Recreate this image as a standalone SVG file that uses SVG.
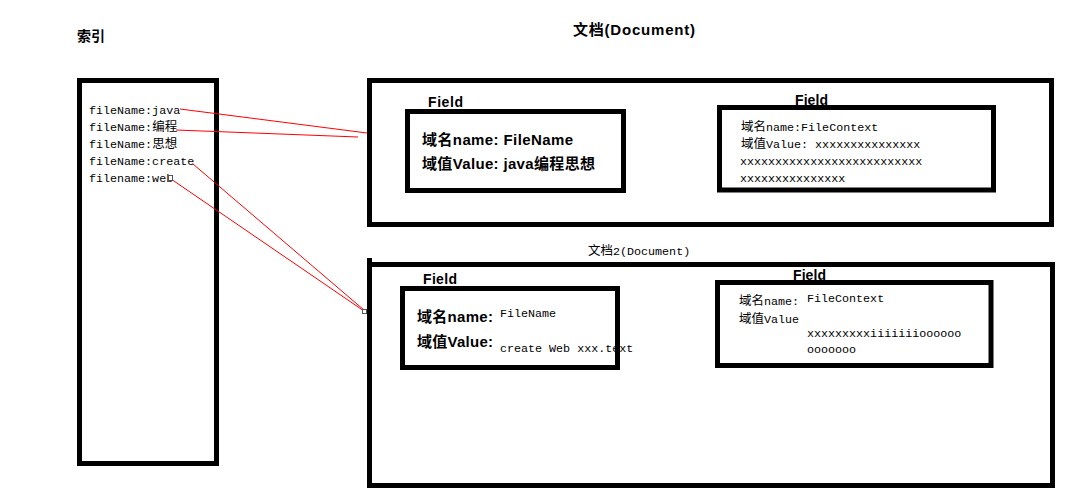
<svg xmlns="http://www.w3.org/2000/svg" width="1080" height="499" viewBox="0 0 1080 499">
<style>
.box{fill:none;stroke:#000;stroke-width:5}
.b{font-family:"Liberation Sans","Noto Sans CJK SC",sans-serif;font-weight:bold;fill:#000}
.m{font-family:"Liberation Mono","Noto Sans CJK SC",monospace;font-size:11.7px;fill:#000}
.c{font-family:"Noto Sans CJK SC",sans-serif;font-size:12.5px}
.red{stroke:#ff0000;stroke-width:1;fill:none}
.h{fill:#fff;stroke:#555;stroke-width:1}
</style>
<rect width="1080" height="499" fill="#fff"/>
<g id="index">
<text class="b" x="77" y="41" font-size="14" textLength="28">索引</text>
<rect class="box" x="79.5" y="80.5" width="137" height="383"/>
<text class="m" x="89" y="114">fileName:java</text>
<text class="m" x="89" y="131">fileName:<tspan class="c">编程</tspan></text>
<text class="m" x="89" y="148">fileName:<tspan class="c">思想</tspan></text>
<text class="m" x="89" y="165">fileName:create</text>
<text class="m" x="89" y="182">filename:web</text>
</g>
<g id="doc1">
<text class="b" x="573" y="35" font-size="15" textLength="122">文档(Document)</text>
<rect class="box" x="369.5" y="80.5" width="682" height="144"/>
</g>
<g id="doc1-field1">
<text class="b" x="428" y="107" font-size="14" textLength="35">Field</text>
<rect class="box" x="407.5" y="111.5" width="216" height="79"/>
<text class="b" x="422" y="145" font-size="15" textLength="151">域名name: FileName</text>
<text class="b" x="422" y="169" font-size="15" textLength="173">域值Value: java编程思想</text>
</g>
<g id="doc1-field2">
<text class="b" x="795" y="105" font-size="14" textLength="33">Field</text>
<rect class="box" x="719.5" y="107.5" width="274" height="82.5"/>
<text class="m" x="741" y="131"><tspan class="c">域名</tspan>name:FileContext</text>
<text class="m" x="741" y="148"><tspan class="c">域值</tspan>Value: xxxxxxxxxxxxxxx</text>
<text class="m" x="740" y="165">xxxxxxxxxxxxxxxxxxxxxxxxxx</text>
<text class="m" x="740" y="182">xxxxxxxxxxxxxxx</text>
</g>
<g id="doc2">
<text class="m" x="588" y="255"><tspan class="c">文档</tspan>2(Document)</text>
<rect class="box" x="369.5" y="264.5" width="683" height="221"/>
<line x1="369.5" y1="258" x2="369.5" y2="265" stroke="#000" stroke-width="5"/>
</g>
<g id="doc2-field1">
<text class="b" x="423" y="284" font-size="14" textLength="34">Field</text>
<rect class="box" x="402.5" y="288.5" width="215" height="79"/>
<text class="b" x="417" y="322" font-size="15" textLength="76">域名name:</text>
<text class="b" x="417" y="347" font-size="15" textLength="76">域值Value:</text>
<text class="m" x="500" y="317">FileName</text>
<text class="m" x="500" y="352">create Web xxx.text</text>
</g>
<g id="doc2-field2">
<text class="b" x="793" y="280" font-size="14" textLength="33">Field</text>
<rect class="box" x="717.5" y="282.5" width="273.5" height="83"/>
<text class="m" x="739" y="305"><tspan class="c">域名</tspan>name:</text>
<text class="m" x="807" y="302">FileContext</text>
<text class="m" x="739" y="323"><tspan class="c">域值</tspan>Value</text>
<text class="m" x="807" y="337">xxxxxxxxxiiiiiiioooooo</text>
<text class="m" x="807" y="353">ooooooo</text>
</g>
<g id="connectors">
<line class="red" x1="180" y1="109" x2="367" y2="133"/>
<line class="red" x1="176" y1="130" x2="358" y2="137"/>
<line class="red" x1="193" y1="164" x2="364" y2="310"/>
<line class="red" x1="171" y1="179" x2="364" y2="311"/>
<rect class="h" x="168.5" y="175.5" width="4" height="5"/>
<rect class="h" x="362.5" y="309.5" width="4" height="4"/>
</g>
</svg>
